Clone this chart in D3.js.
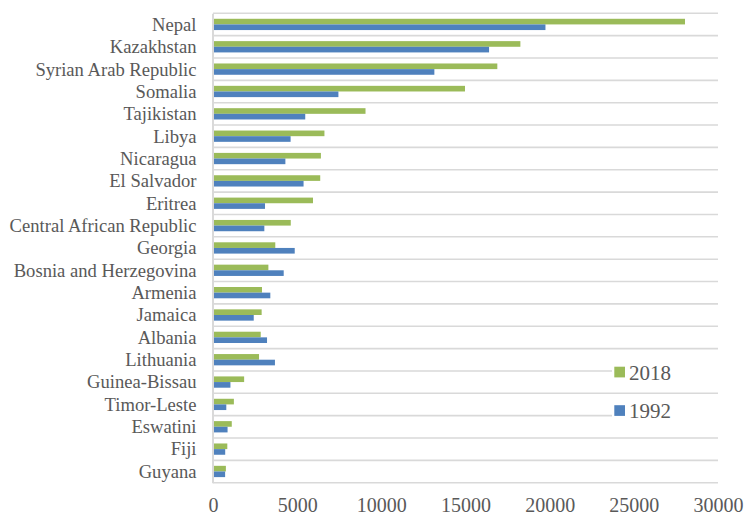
<!DOCTYPE html>
<html>
<head>
<meta charset="utf-8">
<script src="https://cdn.jsdelivr.net/npm/d3@7"></script>
<style>
  html, body { margin: 0; padding: 0; background: #fff; }
  svg { display: block; }
</style>
</head>
<body>
<svg id="chart" width="746" height="517"></svg>
<script>
const categories = [
  "Nepal", "Kazakhstan", "Syrian Arab Republic", "Somalia", "Tajikistan",
  "Libya", "Nicaragua", "El Salvador", "Eritrea", "Central African Republic",
  "Georgia", "Bosnia and Herzegovina", "Armenia", "Jamaica", "Albania",
  "Lithuania", "Guinea-Bissau", "Timor-Leste", "Eswatini", "Fiji", "Guyana"
];
const values2018 = [
  28040, 18260, 16890, 14970, 9060,
  6620, 6410, 6370, 5940, 4620,
  3700, 3290, 2910, 2890, 2835,
  2735, 1850, 1240, 1115, 850, 765
];
const values1992 = [
  19750, 16400, 13150, 7450, 5480,
  4610, 4300, 5380, 3090, 3050,
  4855, 4200, 3405, 2420, 3210,
  3680, 1035, 790, 865, 725, 720
];
const seriesNames = ["2018", "1992"];
const seriesColors = ["#9bbb59", "#4f81bd"];
const xTicks = [0, 5000, 10000, 15000, 20000, 25000, 30000];

(function () {
const svg = d3.select("#chart");
const mLeft = 213, mRight = 718, mTop = 13.3, mBottom = 482.7;
const textColor = "#595959";
const gridColor = "#d9d9d9";
const fontFam = "'Liberation Serif', 'Times New Roman', serif";

const x = d3.scaleLinear().domain([0, 30000]).range([mLeft, mRight]);
const y = d3.scaleBand().domain(categories).range([mTop, mBottom]).padding(0);
const ySub = d3.scaleBand().domain(seriesNames)
  .range([y.bandwidth() * 0.245, y.bandwidth() * 0.75]).padding(0);

// gridlines at category boundaries
const boundaries = categories.map(c => y(c)).concat([mBottom]);
svg.append("g").selectAll("line").data(boundaries).join("line")
  .attr("x1", mLeft).attr("x2", mRight)
  .attr("y1", d => d).attr("y2", d => d)
  .attr("stroke", gridColor).attr("stroke-width", 1.6);

// bars
const data = categories.map((c, i) => ({ c, vals: [values2018[i], values1992[i]] }));
const groups = svg.append("g").selectAll("g").data(data).join("g")
  .attr("transform", d => `translate(0,${y(d.c)})`);
groups.selectAll("rect").data(d => d.vals.map((v, j) => ({ v, s: seriesNames[j], col: seriesColors[j] })))
  .join("rect")
  .attr("x", x(0) + 1)
  .attr("y", d => ySub(d.s))
  .attr("width", d => x(d.v) - x(0) - 1)
  .attr("height", ySub.bandwidth())
  .attr("fill", d => d.col);

// left axis (categories)
const yAxis = svg.append("g").attr("transform", `translate(${mLeft - 0.5},0)`)
  .call(d3.axisLeft(y).tickSize(0).tickSizeOuter(0).tickPadding(16));
yAxis.select(".domain").attr("stroke", gridColor).attr("stroke-width", 2);
yAxis.selectAll("text")
  .attr("font-family", fontFam).attr("font-size", "18.6px")
  .attr("fill", textColor).attr("dy", "0.34em");

// bottom axis (values)
const xAxis = svg.append("g").attr("transform", `translate(0,${mBottom})`)
  .call(d3.axisBottom(x).tickValues(xTicks).tickSize(0).tickFormat(d3.format("d")));
xAxis.select(".domain").remove();
xAxis.selectAll("text")
  .attr("font-family", fontFam).attr("font-size", "20px")
  .attr("fill", textColor).attr("y", 29.8).attr("dy", "0");

// legend
const legendY = [372, 410.5];
const legend = svg.append("g").selectAll("g").data(seriesNames).join("g")
  .attr("transform", (d, i) => `translate(612,${legendY[i]})`);
legend.append("rect").attr("x", 0).attr("y", -9).attr("width", 106).attr("height", 18).attr("fill", "#fff");
legend.append("rect").attr("x", 2.3).attr("y", -5.3).attr("width", 10.7).attr("height", 10.7)
  .attr("fill", (d, i) => seriesColors[i]);
legend.append("text").attr("x", 17).attr("y", 7.5)
  .attr("font-family", fontFam).attr("font-size", "21px").attr("fill", textColor)
  .text(d => d);
})();
</script>
</body>
</html>
